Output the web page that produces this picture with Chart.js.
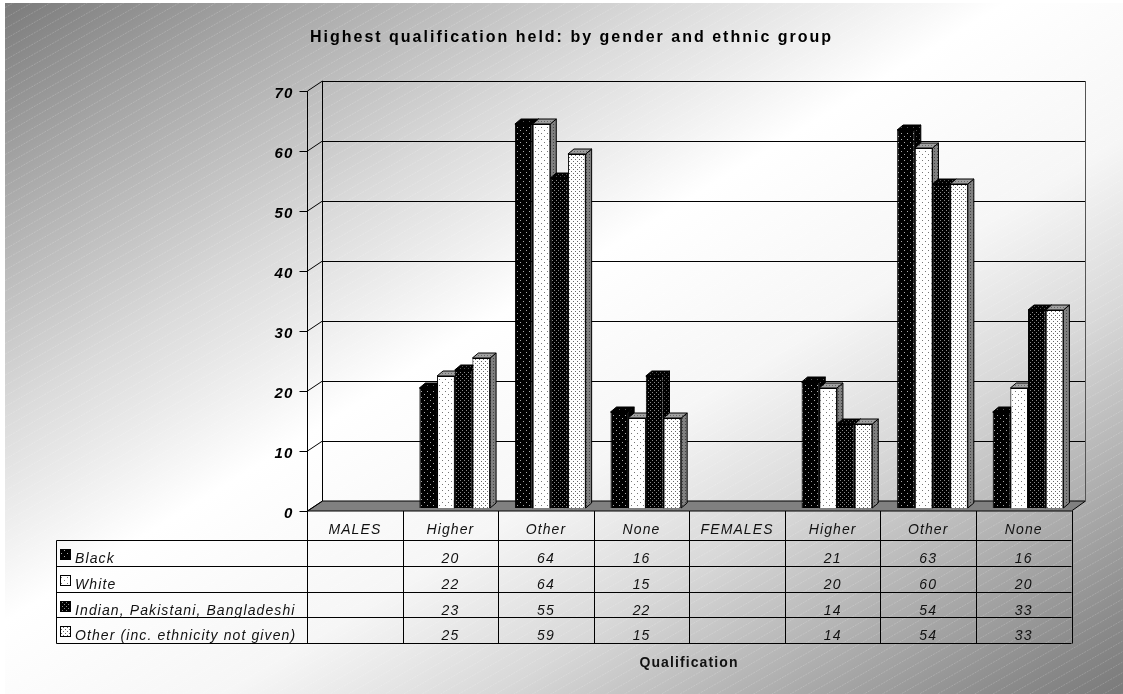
<!DOCTYPE html>
<html>
<head>
<meta charset="utf-8">
<title>Highest qualification held</title>
<script src="https://cdn.jsdelivr.net/npm/chart.js@4"></script>
<style>
    body { margin: 0; background: #fff; }
    canvas { display: block; }
</style>
</head>
<body>
<canvas id="chart" width="1123" height="694"></canvas>
<script>
// values
var categories = ['MALES', 'Higher', 'Other', 'None', 'FEMALES', 'Higher', 'Other', 'None'];
var seriesNames = ['Black', 'White', 'Indian, Pakistani, Bangladeshi', 'Other (inc. ethnicity not given)'];
var black = [null, 20, 64, 16, null, 21, 63, 16];
var white = [null, 22, 64, 15, null, 20, 60, 20];
var indian = [null, 23, 55, 22, null, 14, 54, 33];
var other = [null, 25, 59, 15, null, 14, 54, 33];
var allSeries = [black, white, indian, other];

var FONT = '"Liberation Sans", Arial, sans-serif';
var BAR_DX = 6, BAR_DY = 5;       // depth of one bar
var BACK_DX = 11, BACK_DY = -7;   // bar plane to back wall
var FRONT_DX = -4.3, FRONT_DY = 3; // bar plane to front edge
var ROWS = [540, 566, 592, 617, 643];

// dotted fills like the old office chart patterns
function dots(bg, dot, size, points) {
    var c = document.createElement('canvas');
    c.width = c.height = size;
    var g = c.getContext('2d');
    g.fillStyle = bg;
    g.fillRect(0, 0, size, size);
    g.fillStyle = dot;
    points.forEach(function(p) { g.fillRect(p[0], p[1], 1, 1); });
    return g.createPattern(c, 'repeat');
}
var fronts = [
    dots('#000', '#aaa', 6, [[1, 1], [4, 4]]),
    dots('#fff', '#777', 6, [[1, 1], [4, 4]]),
    dots('#000', '#888', 4, [[0, 0], [2, 2]]),
    dots('#fff', '#666', 4, [[1, 1], [3, 3]])
];
var sides = [
    dots('#000', '#555', 6, [[1, 1], [4, 4]]),
    dots('#808080', '#444', 3, [[1, 1]]),
    dots('#000', '#555', 4, [[0, 0], [2, 2]]),
    dots('#808080', '#444', 3, [[1, 1]])
];
var caps = [
    dots('#000', '#555', 6, [[1, 1], [4, 4]]),
    dots('#a0a0a0', '#666', 3, [[1, 1]]),
    dots('#000', '#555', 4, [[0, 0], [2, 2]]),
    dots('#a0a0a0', '#666', 3, [[1, 1]])
];

function poly(ctx, pts, fill) {
    ctx.beginPath();
    pts.forEach(function(p, i) { if (i) ctx.lineTo(p[0], p[1]); else ctx.moveTo(p[0], p[1]); });
    ctx.closePath();
    if (fill) { ctx.fillStyle = fill; ctx.fill(); }
    ctx.stroke();
}
function line(ctx, x1, y1, x2, y2) {
    ctx.beginPath();
    ctx.moveTo(x1, y1);
    ctx.lineTo(x2, y2);
    ctx.stroke();
}
function snap(v) { return Math.round(v) + 0.5; }

var backdrop = {
    id: 'backdrop',
    beforeDraw: function(chart) {
        var ctx = chart.ctx, W = chart.width, H = chart.height;
        ctx.letterSpacing = '2px'; // title is drawn before the datasets
        ctx.save();
        ctx.fillStyle = '#fff';
        ctx.fillRect(0, 0, W, H);
        ctx.beginPath();
        ctx.rect(5, 3, W - 5, H - 3);
        ctx.clip();
        // isolines run along the bottom-left to top-right diagonal
        var k = 2 * W * H / (W * W + H * H);
        var grad = ctx.createLinearGradient(0, 0, H * k, W * k);
        grad.addColorStop(0, '#7a7a7a');
        grad.addColorStop(0.13, '#a6a6a6');
        grad.addColorStop(0.3, '#dadada');
        grad.addColorStop(0.45, '#fff');
        grad.addColorStop(0.6, '#f6f6f6');
        grad.addColorStop(0.72, '#d8d8d8');
        grad.addColorStop(0.945, '#8a8a8a');
        grad.addColorStop(1, '#7a7a7a');
        ctx.fillStyle = grad;
        ctx.fillRect(0, 0, W, H);
        ctx.strokeStyle = 'rgba(255,255,255,0.18)';
        ctx.setLineDash([2, 1]);
        for (var y = 0; y < H + W; y += 10.5) {
            line(ctx, 0, y, W, y - W * 0.57);
        }
        ctx.restore();
    },
    beforeDatasetsDraw: function(chart) {
        var ctx = chart.ctx, xs = chart.scales.x, ys = chart.scales.y;
        var cell = xs.width / categories.length;
        var left = xs.left + FRONT_DX, right = xs.right + FRONT_DX;
        var backL = snap(xs.left + BACK_DX), backR = Math.floor(xs.right + BACK_DX) - 0.5;
        var y0 = ys.getPixelForValue(0);
        ctx.letterSpacing = '1.1px';
        ctx.save();
        ctx.strokeStyle = '#000';
        ctx.lineWidth = 1;

        // floor
        poly(ctx, [[snap(left), y0 + FRONT_DY], [backL, y0 + BACK_DY],
                   [backR, y0 + BACK_DY], [right, y0 + FRONT_DY]], '#808080');

        // walls and gridlines from the y scale
        ys.ticks.forEach(function(t) {
            var py = ys.getPixelForValue(t.value);
            if (t.value > 0) line(ctx, backL, snap(py + BACK_DY), backR, snap(py + BACK_DY));
            line(ctx, backL, py + BACK_DY, snap(left), py + FRONT_DY);
            line(ctx, snap(left), snap(py + FRONT_DY), snap(left) - 8, snap(py + FRONT_DY));
        });
        var top = ys.getPixelForValue(70);
        line(ctx, snap(left), top + FRONT_DY, snap(left), y0 + FRONT_DY);
        line(ctx, backL, top + BACK_DY, backL, y0 + BACK_DY);
        ctx.strokeStyle = '#555';
        line(ctx, backR, top + BACK_DY, backR, y0 + BACK_DY);
        ctx.strokeStyle = '#000';

        // data table
        var tableLeft = 56.5;
        line(ctx, tableLeft, snap(ROWS[0]), tableLeft, snap(ROWS[4]));
        ROWS.forEach(function(r) { line(ctx, tableLeft, snap(r), right, snap(r)); });
        for (var c = 0; c <= categories.length; c++) {
            var cx = snap(left + c * cell);
            line(ctx, cx, y0 + FRONT_DY, cx, snap(ROWS[4]));
        }
        ctx.fillStyle = '#111';
        ctx.font = 'italic 14px ' + FONT;
        ctx.textBaseline = 'alphabetic';
        allSeries.forEach(function(vals, s) {
            var base = ROWS[s] + 22.5;
            ctx.textAlign = 'left';
            ctx.fillStyle = fronts[s];
            ctx.fillRect(60.5, ROWS[s] + 9.5, 10, 10);
            ctx.strokeRect(60.5, ROWS[s] + 9.5, 10, 10);
            ctx.fillStyle = '#111';
            ctx.fillText(seriesNames[s], 75, base);
            ctx.textAlign = 'center';
            vals.forEach(function(v, i) {
                if (v !== null) ctx.fillText(v, left + (i + 0.5) * cell, base);
            });
        });
        ctx.font = 'bold 14px ' + FONT;
        ctx.fillText('Qualification', 689, 667);
        ctx.restore();
    },
    // the chart would paint the last series first, here each bar has to
    // cover the side of the bar before it, so series are painted in turn
    beforeDatasetDraw: function() { return false; },
    afterDatasetsDraw: function(chart) {
        var ctx = chart.ctx;
        allSeries.forEach(function(vals, s) {
            var meta = chart.getDatasetMeta(s);
            ctx.save();
            ctx.strokeStyle = '#000';
            ctx.lineWidth = 1;
            meta.data.forEach(function(bar, i) {
                if (vals[i] === null) return;
                var r = bar.x + bar.width / 2, l = bar.x - bar.width / 2;
                poly(ctx, [[r, bar.y], [r + BAR_DX, bar.y - BAR_DY], [r + BAR_DX, bar.base - BAR_DY], [r, bar.base]], sides[s]);
                poly(ctx, [[l, bar.y], [l + BAR_DX, bar.y - BAR_DY], [r + BAR_DX, bar.y - BAR_DY], [r, bar.y]], caps[s]);
            });
            ctx.restore();
            meta.controller.draw();
        });
    }
};

var datasets = allSeries.map(function(vals, s) {
    return {
        label: seriesNames[s],
        data: vals,
        backgroundColor: fronts[s],
        borderColor: '#000',
        borderWidth: 1
    };
});

new Chart(document.getElementById('chart'), {
    type: 'bar',
    data: { labels: categories, datasets: datasets },
    plugins: [backdrop],
    options: {
        responsive: false,
        animation: false,
        layout: { padding: { left: 67.2, right: 47.2, top: 0, bottom: 0 } },
        datasets: { bar: { categoryPercentage: 0.74, barPercentage: 1 } },
        plugins: {
            legend: { display: false },
            tooltip: { enabled: false },
            title: {
                display: true,
                text: 'Highest qualification held: by gender and ethnic group',
                color: '#000',
                font: { family: FONT, size: 16, weight: 'bold', lineHeight: 1.2 },
                padding: { top: 28, bottom: 40.8 }
            }
        },
        scales: {
            x: {
                grid: { display: false, drawTicks: false },
                border: { display: false },
                afterFit: function(s) { s.height = 186; },
                ticks: {
                    autoSkip: false,
                    maxRotation: 0,
                    padding: 14,
                    labelOffset: -4.3,
                    z: 1,
                    color: '#111',
                    font: { family: FONT, size: 14, style: 'italic' }
                }
            },
            y: {
                min: 0,
                max: 70,
                grid: { display: false, drawTicks: false },
                border: { display: false },
                afterFit: function(s) { s.width = 244.2; },
                ticks: {
                    stepSize: 10,
                    padding: 18,
                    labelOffset: 6,
                    z: 1,
                    color: '#000',
                    font: { family: FONT, size: 15, style: 'italic', weight: 'bold' }
                }
            }
        }
    }
});
</script>
</body>
</html>
